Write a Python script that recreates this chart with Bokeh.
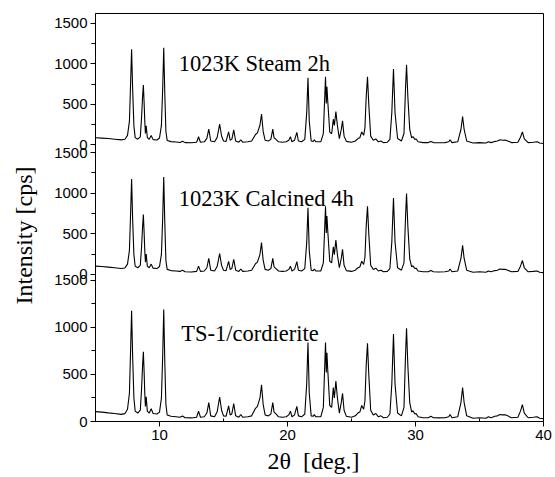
from bokeh.plotting import figure
from bokeh.models import Range1d, FixedTicker, Label
from bokeh.embed import file_html
from bokeh.resources import INLINE

# ---- data ----
two_theta = [5.0, 5.5, 6.0, 6.5, 7.0, 7.3, 7.5, 7.65, 7.75, 7.82, 7.9, 8.0, 8.1, 8.3, 8.5, 8.6, 8.68, 8.74, 8.8, 8.85,
             8.9, 8.96, 9.05, 9.2, 9.35, 9.5, 9.8, 10.0, 10.15, 10.25, 10.33, 10.42, 10.5, 10.6, 10.9, 11.3, 11.6, 11.8, 12.0, 12.5,
             12.9, 13.05, 13.2, 13.5, 13.7, 13.85, 14.0, 14.3, 14.5, 14.7, 14.85, 15.0, 15.2, 15.4, 15.52, 15.65, 15.8, 15.95, 16.2, 16.35,
             16.5, 16.9, 17.2, 17.5, 17.65, 17.85, 17.97, 18.1, 18.25, 18.5, 18.7, 18.85, 18.95, 19.1, 19.3, 19.6, 19.9, 20.1, 20.23, 20.35,
             20.55, 20.73, 20.85, 21.1, 21.35, 21.5, 21.6, 21.7, 21.85, 22.0, 22.1, 22.2, 22.6, 22.8, 22.97, 23.03, 23.08, 23.14, 23.3, 23.45,
             23.58, 23.66, 23.78, 23.9, 24.05, 24.2, 24.3, 24.42, 24.6, 25.0, 25.3, 25.5, 25.65, 25.8, 25.95, 26.05, 26.15, 26.25, 26.35, 26.5,
             26.7, 26.9, 27.1, 27.3, 27.5, 27.8, 28.0, 28.15, 28.28, 28.4, 28.6, 28.9, 29.1, 29.22, 29.3, 29.4, 29.55, 29.7, 29.8, 29.95,
             30.05, 30.2, 30.6, 31.0, 31.2, 31.4, 31.8, 32.3, 32.6, 32.7, 32.85, 33.3, 33.55, 33.68, 33.8, 34.0, 34.3, 34.5, 35.0, 35.5,
             35.7, 35.9, 36.2, 36.4, 36.6, 36.8, 37.0, 37.2, 37.5, 38.0, 38.2, 38.35, 38.5, 38.8, 39.2, 39.5, 39.7, 40.0]

# TS-1/cordierite (bottom panel)
ts1_cordierite = [105, 100, 92, 85, 76, 84, 130, 300, 800, 1175, 700, 250, 110, 90, 120, 350, 600, 740, 520, 300,
                  160, 262, 110, 90, 135, 85, 80, 100, 250, 700, 1190, 600, 180, 70, 55, 50, 45, 58, 40, 38,
                  45, 110, 45, 50, 90, 200, 60, 50, 100, 260, 120, 60, 55, 165, 70, 80, 190, 60, 45, 75,
                  45, 50, 60, 140, 160, 250, 390, 180, 70, 60, 80, 200, 100, 80, 50, 45, 50, 70, 110, 50,
                  70, 160, 60, 50, 80, 400, 840, 300, 60, 55, 75, 50, 50, 150, 840, 520, 730, 560, 170, 150,
                  360, 250, 430, 250, 90, 200, 300, 120, 55, 45, 60, 90, 100, 170, 130, 220, 600, 830, 500, 120,
                  70, 85, 50, 60, 40, 45, 80, 400, 930, 400, 90, 60, 150, 700, 990, 600, 200, 100, 115, 80,
                  85, 50, 40, 40, 55, 40, 38, 40, 50, 75, 40, 50, 200, 360, 200, 60, 45, 35, 40, 35,
                  50, 40, 55, 60, 75, 70, 72, 60, 40, 45, 110, 180, 90, 40, 45, 50, 35, 30]

# 1023K Calcined 4h (middle panel)
calcined_4h = [100, 95, 88, 80, 70, 78, 125, 295, 790, 1176, 690, 240, 100, 80, 110, 340, 590, 737, 510, 290,
               150, 250, 100, 80, 125, 75, 70, 95, 245, 700, 1200, 600, 170, 60, 45, 40, 35, 48, 30, 28,
               35, 100, 35, 40, 80, 195, 50, 40, 95, 255, 110, 50, 45, 160, 60, 70, 185, 50, 35, 65,
               35, 40, 50, 130, 150, 245, 390, 170, 60, 50, 70, 195, 90, 70, 40, 35, 40, 60, 100, 40,
               60, 155, 50, 40, 70, 390, 820, 290, 50, 45, 65, 40, 40, 140, 840, 510, 720, 550, 160, 140,
               340, 240, 421, 240, 80, 195, 307, 110, 45, 35, 50, 80, 90, 160, 120, 210, 600, 840, 500, 110,
               60, 75, 40, 50, 30, 35, 70, 400, 942, 400, 80, 50, 140, 700, 995, 600, 190, 90, 105, 70,
               75, 40, 30, 30, 45, 30, 28, 30, 40, 65, 30, 40, 195, 356, 195, 50, 35, 25, 30, 25,
               40, 30, 45, 50, 65, 60, 62, 50, 30, 35, 100, 172, 80, 30, 35, 40, 25, 20]

# 1023K Steam 2h (top panel)
steam_2h = [88, 84, 78, 70, 62, 70, 118, 290, 800, 1180, 700, 235, 90, 70, 100, 340, 600, 740, 515, 290,
            140, 235, 90, 70, 115, 65, 60, 85, 240, 700, 1200, 600, 165, 55, 40, 35, 30, 45, 28, 26,
            33, 100, 33, 38, 80, 195, 48, 38, 90, 255, 110, 48, 43, 160, 58, 68, 185, 48, 33, 63,
            33, 38, 48, 128, 148, 245, 380, 165, 58, 48, 68, 195, 88, 68, 38, 33, 38, 58, 100, 38,
            58, 155, 48, 38, 68, 395, 830, 295, 48, 43, 63, 38, 38, 140, 840, 510, 716, 550, 158, 138,
            317, 240, 411, 238, 78, 190, 296, 108, 43, 33, 48, 78, 88, 160, 118, 210, 600, 840, 500, 108,
            58, 73, 38, 48, 28, 33, 68, 400, 938, 400, 78, 48, 140, 700, 988, 600, 190, 88, 103, 68,
            73, 38, 28, 28, 43, 28, 26, 28, 38, 63, 28, 38, 190, 350, 190, 48, 33, 23, 28, 23,
            38, 28, 43, 48, 63, 58, 60, 48, 28, 33, 95, 160, 75, 28, 33, 38, 23, 18]

panel_labels = ["1023K Steam 2h", "1023K Calcined 4h", "TS-1/cordierite"]
label_x = [11.5, 11.5, 11.7]
label_y = [1000, 930, 940]
y_ticks = [0, 500, 1000, 1500]
y_minor = [250, 750, 1250]
x_ticks = [10, 20, 30, 40]
x_minor = [5, 15, 25, 35]

# ---- layout of the three stacked panels (one frame, three scales) ----
bot_range = Range1d(0, 4334)
mid_range = Range1d(-1818, 3219)
top_range = Range1d(-3415, 1622)

p = figure(width=553, height=476, x_range=Range1d(5, 40), y_range=bot_range,
           output_backend="svg", toolbar_location=None,
           min_border_left=95, min_border_right=10, min_border_top=13, min_border_bottom=53)
p.extra_y_ranges = {"mid": mid_range, "top": top_range}
p.xgrid.visible = False
p.ygrid.visible = False
p.outline_line_color = "black"
p.outline_line_width = 1
p.background_fill_color = "white"
p.border_fill_color = "white"


def to_bot(v, r):
    return int(round((v - r.start) / (r.end - r.start) * (bot_range.end - bot_range.start) + bot_range.start))


major, minor, overrides = [], [], {}
for r in (bot_range, mid_range, top_range):
    for v in y_ticks:
        t = to_bot(v, r)
        major.append(t)
        overrides[t] = str(v)
    for v in y_minor:
        minor.append(to_bot(v, r))

ya = p.yaxis[0]
ya.ticker = FixedTicker(ticks=major, minor_ticks=minor)
ya.major_label_overrides = overrides
ya.major_label_text_font = "Liberation Sans"
ya.major_label_text_font_size = "15px"
ya.major_label_text_color = "black"
ya.major_tick_out = 5
ya.major_tick_in = 0
ya.minor_tick_out = 4
ya.minor_tick_in = 0
ya.major_label_standoff = 3
ya.axis_label = "Intensity [cps]" + "\u00a0" * 6
ya.axis_label_text_font = "Liberation Serif"
ya.axis_label_text_font_style = "normal"
ya.axis_label_text_font_size = "24px"
ya.axis_label_text_color = "black"
ya.axis_label_standoff = 14
ya.axis_line_color = "black"
ya.major_tick_line_color = "black"
ya.minor_tick_line_color = "black"

xa = p.xaxis[0]
xa.ticker = FixedTicker(ticks=x_ticks, minor_ticks=x_minor)
xa.major_label_text_font = "Liberation Sans"
xa.major_label_text_font_size = "15px"
xa.major_label_text_color = "black"
xa.major_tick_out = 5
xa.major_tick_in = 0
xa.minor_tick_out = 0
xa.minor_tick_in = 3
xa.major_label_standoff = 3
xa.axis_label = "2\u03b8\u00a0\u00a0[deg.]" + "\u00a0" * 2
xa.axis_label_text_font = "Liberation Serif"
xa.axis_label_text_font_style = "normal"
xa.axis_label_text_font_size = "24px"
xa.axis_label_text_color = "black"
xa.axis_label_standoff = 5
xa.axis_line_color = "black"

series = [(steam_2h, "top"), (calcined_4h, "mid"), (ts1_cordierite, "default")]
for counts, rname in series:
    p.line(two_theta, counts, y_range_name=rname, line_color="black", line_width=1.1)

for txt, lx, ly, (_, rname) in zip(panel_labels, label_x, label_y, series):
    p.add_layout(Label(x=lx, y=ly, y_range_name=rname, text=txt,
                       text_font="Liberation Serif", text_font_size="22.5px",
                       text_color="black", text_baseline="alphabetic", text_align="left"))

open("out.html", "w").write(file_html(p, INLINE))
